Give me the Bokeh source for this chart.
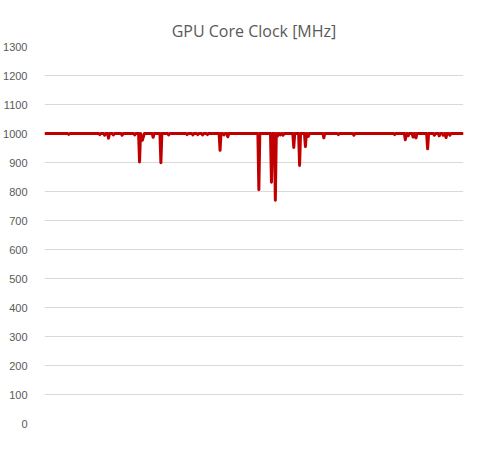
from bokeh.plotting import figure
from bokeh.models import FixedTicker, Range1d
from bokeh.embed import file_html
from bokeh.resources import INLINE

# sample index -> clock (MHz); the series sits at 1000 MHz with short dips
sample = [0,
          24, 25, 26, 56, 57, 58, 61, 62, 63, 65, 66, 67, 70, 71, 72, 79, 80, 81,
          92, 93, 94, 97, 98, 99, 100, 101, 102, 103, 104,
          111, 112, 113, 119, 120, 121, 127, 128, 129,
          146, 147, 148, 152, 153, 154, 157, 158, 159, 162, 163, 164, 167, 168, 169,
          180, 181, 182, 184, 185, 186, 188, 189, 190,
          220, 221, 222, 233, 234, 235, 237, 238, 239, 240, 241, 242, 243, 244, 245, 246, 247,
          256, 257, 258, 262, 263, 264, 268, 269, 270, 271, 272, 273,
          287, 288, 289, 302, 303, 304, 318, 319, 320, 360, 361, 362,
          371, 372, 373, 374, 375, 376, 379, 380, 381, 382, 383, 384,
          394, 395, 396, 401, 402, 403, 406, 407, 408, 410, 411, 412,
          413, 414, 415, 417, 418, 419,
          432]
clock = [1000,
         1000, 997, 1000, 1000, 996, 1000, 1000, 994, 1000, 1000, 984, 1000, 1000, 995, 1000, 1000, 994, 1000,
         1000, 995, 1000, 1000, 902, 1000, 985, 977, 990, 1000, 1000,
         1000, 987, 1000, 1000, 899, 1000, 1000, 995, 1000,
         1000, 996, 1000, 1000, 995, 1000, 1000, 996, 1000, 1000, 995, 1000, 1000, 996, 1000,
         1000, 942, 1000, 1000, 995, 1000, 1000, 989, 1000,
         1000, 806, 1000, 1000, 832, 1000, 1000, 770, 1000, 990, 1000, 1000, 995, 1000, 1000, 994, 1000,
         1000, 952, 1000, 1000, 890, 1000, 1000, 955, 1000, 1000, 990, 1000,
         1000, 985, 1000, 1000, 996, 1000, 1000, 994, 1000, 1000, 996, 1000,
         1000, 978, 1000, 1000, 992, 1000, 1000, 988, 1000, 1000, 985, 1000,
         1000, 947, 1000, 1000, 994, 1000, 1000, 992, 1000, 1000, 994, 1000,
         1000, 986, 1000, 1000, 994, 1000,
         1000]

y_ticks = [0, 100, 200, 300, 400, 500, 600, 700, 800, 900, 1000, 1100, 1200, 1300]
title = "GPU Core Clock [MHz]"

p = figure(width=477, height=438, output_backend="svg", toolbar_location=None,
           x_range=Range1d(0, 432), y_range=Range1d(0, 1300),
           min_border_left=44, min_border_right=14, min_border_top=46, min_border_bottom=15)

p.title.text = title
p.title.align = "center"
p.title.text_font = "Open Sans"
p.title.text_font_size = "16px"
p.title.text_font_style = "normal"
p.title.text_color = "#595959"
p.title.offset = 0

p.line(sample, clock, line_color="#c00000", line_width=3, line_join="round")

p.xaxis.visible = False
p.yaxis.ticker = FixedTicker(ticks=y_ticks)
p.yaxis.axis_line_color = None
p.yaxis.major_tick_line_color = None
p.yaxis.minor_tick_line_color = None
p.yaxis.major_label_text_font = "Liberation Sans"
p.yaxis.major_label_text_font_size = "11px"
p.yaxis.major_label_text_color = "#595959"
p.yaxis.major_label_standoff = 11

p.xgrid.visible = False
p.ygrid.ticker = FixedTicker(ticks=y_ticks)
p.ygrid.grid_line_color = "#d9d9d9"
p.ygrid.grid_line_width = 1
p.outline_line_color = None
p.background_fill_color = "white"
p.border_fill_color = "white"

open("out.html", "w").write(file_html(p, INLINE))
